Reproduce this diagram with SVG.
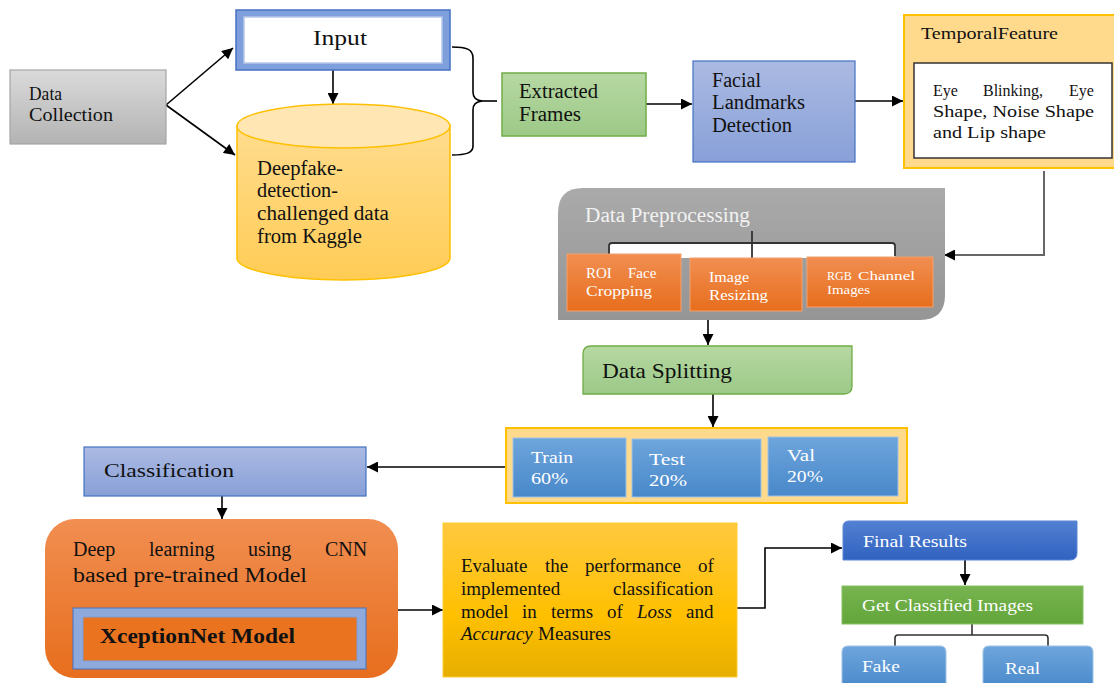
<svg xmlns="http://www.w3.org/2000/svg" width="1114" height="683" viewBox="0 0 1114 683" font-family="'Liberation Serif', 'DejaVu Serif', serif">
<defs>
<marker id="arr" viewBox="0 0 10 10" refX="10" refY="5" markerWidth="12" markerHeight="11" markerUnits="userSpaceOnUse" orient="auto"><path d="M0,0 L10,5 L0,10 z" fill="#000"/></marker>
<linearGradient id="gGray" x1="0" y1="0" x2="0" y2="1"><stop offset="0" stop-color="#DADADA"/><stop offset="1" stop-color="#B3B3B3"/></linearGradient>
<linearGradient id="gGray2" x1="0" y1="0" x2="0" y2="1"><stop offset="0" stop-color="#AAAAAA"/><stop offset="1" stop-color="#959595"/></linearGradient>
<linearGradient id="gGreen" x1="0" y1="0" x2="0" y2="1"><stop offset="0" stop-color="#B7D8A3"/><stop offset="1" stop-color="#9CC987"/></linearGradient>
<linearGradient id="gGreen2" x1="0" y1="0" x2="0" y2="1"><stop offset="0" stop-color="#78B450"/><stop offset="1" stop-color="#62A53A"/></linearGradient>
<linearGradient id="gLBlue" x1="0" y1="0" x2="0" y2="1"><stop offset="0" stop-color="#ABBAE2"/><stop offset="1" stop-color="#88A0D8"/></linearGradient>
<linearGradient id="gBlue" x1="0" y1="0" x2="0" y2="1"><stop offset="0" stop-color="#6EA5DC"/><stop offset="1" stop-color="#4888CA"/></linearGradient>
<linearGradient id="gDBlue" x1="0" y1="0" x2="0" y2="1"><stop offset="0" stop-color="#5280D2"/><stop offset="1" stop-color="#3062C0"/></linearGradient>
<linearGradient id="gOrange" x1="0" y1="0" x2="0" y2="1"><stop offset="0" stop-color="#F18E51"/><stop offset="1" stop-color="#E76E1D"/></linearGradient>
<linearGradient id="gYellow" x1="0" y1="0" x2="0" y2="1"><stop offset="0" stop-color="#FFC93F"/><stop offset="0.6" stop-color="#FFC000"/><stop offset="1" stop-color="#E6AE00"/></linearGradient>
<linearGradient id="gCyl" x1="0" y1="0" x2="0" y2="1"><stop offset="0" stop-color="#FFDC8E"/><stop offset="1" stop-color="#FFCC55"/></linearGradient>
<style>
text{font-family:'Liberation Serif','DejaVu Serif',serif;fill:#111;}
.w{fill:#fff;}
.con{fill:none;stroke:#000;stroke-width:1.6;}
.arr{marker-end:url(#arr);}
.blue{fill:url(#gBlue);stroke:#9DC3E6;stroke-width:1;}
.org{fill:url(#gOrange);stroke:#F4A26E;stroke-width:1;}
</style>
</defs>
<rect width="1114" height="683" fill="#fff"/>

<g id="connectors">
<path class="con arr" d="M166,105 L233,48"/>
<path class="con arr" d="M166,105 L235,155"/>
<path class="con arr" d="M333,70 L333,104"/>
<path class="con" d="M452,47 C466,47 473,49 473,58 L473,92 C473,98 476,100 482,101 C476,102 473,104 473,110 L473,146 C473,153 466,155 452,155"/>
<path class="con" d="M480,101 L497,101"/>
<path class="con arr" d="M646,104 L692,104"/>
<path class="con arr" d="M855,101 L903,101"/>
<path class="con arr" d="M1044,171 L1044,255 L944,255" style="stroke:#666;stroke-width:2"/>
<path class="con arr" d="M708,320 L708,345"/>
<path class="con arr" d="M713,394 L713,427"/>
<path class="con arr" d="M506,467 L367,467"/>
<path class="con arr" d="M222,496 L222,519"/>
<path class="con arr" d="M398,610 L443,610"/>
<path class="con arr" d="M737,608 L765,608 L765,548 L842,548"/>
<path class="con arr" d="M965,560 L965,585"/>
<path class="con" d="M972,624 L972,635 M895,646 L895,638 Q895,635 898,635 L1045,635 Q1048,635 1048,638 L1048,646" style="stroke:#333"/>
</g>

<g id="data-collection">
<rect x="10" y="70" width="156" height="74" fill="url(#gGray)" stroke="#A6A6A6" stroke-width="1.2"/>
<text x="29" y="100" font-size="18" textLength="33" lengthAdjust="spacingAndGlyphs">Data</text>
<text x="29" y="121" font-size="18" textLength="84" lengthAdjust="spacingAndGlyphs">Collection</text>
</g>

<g id="input">
<rect x="236" y="10" width="214" height="60" fill="#7F9FDC" stroke="#4472C4" stroke-width="1.5"/>
<rect x="244" y="17" width="198" height="46" fill="#fff" stroke="#B4C7E7" stroke-width="1.5"/>
<text x="313" y="45" font-size="21" textLength="54" lengthAdjust="spacingAndGlyphs">Input</text>
</g>

<g id="dataset">
<path d="M237,126 L237,258 A106.5,22 0 0 0 450,258 L450,126 Z" fill="url(#gCyl)" stroke="#FFC000" stroke-width="1.5"/>
<ellipse cx="343.5" cy="126" rx="106.5" ry="22" fill="#FFE6B3" stroke="#FFC000" stroke-width="1.5"/>
<text x="257" y="175" font-size="20" textLength="86" lengthAdjust="spacingAndGlyphs">Deepfake-</text>
<text x="257" y="197" font-size="20" textLength="81" lengthAdjust="spacingAndGlyphs">detection-</text>
<text x="257" y="220" font-size="20" textLength="132" lengthAdjust="spacingAndGlyphs">challenged  data</text>
<text x="257" y="243" font-size="20" textLength="105" lengthAdjust="spacingAndGlyphs">from Kaggle</text>
</g>

<g id="extracted-frames">
<rect x="502" y="73" width="144" height="63" fill="url(#gGreen)" stroke="#70AD47" stroke-width="1.5"/>
<text x="519" y="98" font-size="20" textLength="79" lengthAdjust="spacingAndGlyphs">Extracted</text>
<text x="519" y="121" font-size="20" textLength="62" lengthAdjust="spacingAndGlyphs">Frames</text>
</g>

<g id="facial-landmarks">
<rect x="693" y="61" width="162" height="101" fill="url(#gLBlue)" stroke="#4472C4" stroke-width="1.2"/>
<text x="712" y="87" font-size="20" textLength="49" lengthAdjust="spacingAndGlyphs">Facial</text>
<text x="712" y="109" font-size="20" textLength="93" lengthAdjust="spacingAndGlyphs">Landmarks</text>
<text x="712" y="132" font-size="20" textLength="80" lengthAdjust="spacingAndGlyphs">Detection</text>
</g>

<g id="temporal-feature">
<rect x="904" y="15" width="212" height="153" fill="#FFD98C" stroke="#FFC000" stroke-width="2"/>
<text x="921" y="39" font-size="16" textLength="137" lengthAdjust="spacingAndGlyphs">TemporalFeature</text>
<rect x="914" y="63" width="198" height="95" fill="#fff" stroke="#333" stroke-width="1.5"/>
<text x="933" y="96" font-size="16">Eye</text>
<text x="983" y="96" font-size="16">Blinking,</text>
<text x="1069" y="96" font-size="16">Eye</text>
<text x="933" y="117" font-size="16" textLength="161" lengthAdjust="spacingAndGlyphs">Shape, Noise Shape</text>
<text x="933" y="138" font-size="16" textLength="113" lengthAdjust="spacingAndGlyphs">and Lip shape</text>
</g>

<g id="data-preprocessing">
<path d="M558,320 L558,213 Q558,188 583,188 L945,188 L945,295 Q945,320 920,320 Z" fill="url(#gGray2)"/>
<text class="w" x="585" y="222" font-size="20" textLength="165" lengthAdjust="spacingAndGlyphs" style="fill:#F2F2F2">Data Preprocessing</text>
<rect x="610" y="244" width="285" height="14" fill="#fff"/>
<path class="con" d="M609,256 L609,246 Q609,243 612,243 L892,243 Q895,243 895,246 L895,256 M752,231 L752,258" style="stroke:#333;stroke-width:1.8"/>
</g>

<g id="roi-face-cropping">
<rect class="org" x="567" y="254" width="114" height="57"/>
<text class="w" x="586" y="278" font-size="15">ROI</text>
<text class="w" x="628" y="278" font-size="15">Face</text>
<text class="w" x="586" y="296" font-size="15" textLength="66" lengthAdjust="spacingAndGlyphs">Cropping</text>
</g>

<g id="image-resizing">
<rect class="org" x="690" y="258" width="112" height="53"/>
<text class="w" x="709" y="282" font-size="15" textLength="40" lengthAdjust="spacingAndGlyphs">Image</text>
<text class="w" x="709" y="300" font-size="15" textLength="59" lengthAdjust="spacingAndGlyphs">Resizing</text>
</g>

<g id="rgb-channel-images">
<rect class="org" x="807" y="257" width="126" height="50"/>
<text class="w" x="827" y="280" font-size="12">RGB</text>
<text class="w" x="858" y="280" font-size="12" textLength="57" lengthAdjust="spacingAndGlyphs">Channel</text>
<text class="w" x="827" y="294" font-size="12" textLength="43" lengthAdjust="spacingAndGlyphs">Images</text>
</g>

<g id="data-splitting">
<path d="M591,346 L852,346 L852,386 Q852,394 844,394 L583,394 L583,354 Q583,346 591,346 Z" fill="url(#gGreen)" stroke="#70AD47" stroke-width="1.3"/>
<text x="602" y="378" font-size="21" textLength="130" lengthAdjust="spacingAndGlyphs">Data Splitting</text>
</g>

<g id="split-sets">
<rect x="506" y="428" width="401" height="75" fill="#FFD98C" stroke="#FFC000" stroke-width="2"/>
</g>
<g id="train">
<rect class="blue" x="513" y="438" width="113" height="59"/>
<text class="w" x="531" y="463" font-size="16" textLength="42" lengthAdjust="spacingAndGlyphs">Train</text>
<text class="w" x="531" y="484" font-size="16" textLength="37" lengthAdjust="spacingAndGlyphs">60%</text>
</g>
<g id="test">
<rect class="blue" x="632" y="439" width="129" height="58"/>
<text class="w" x="649" y="465" font-size="16" textLength="36" lengthAdjust="spacingAndGlyphs">Test</text>
<text class="w" x="649" y="486" font-size="16" textLength="38" lengthAdjust="spacingAndGlyphs">20%</text>
</g>
<g id="val">
<rect class="blue" x="768" y="437" width="130" height="59"/>
<text class="w" x="787" y="461" font-size="16" textLength="28" lengthAdjust="spacingAndGlyphs">Val</text>
<text class="w" x="787" y="482" font-size="16" textLength="36" lengthAdjust="spacingAndGlyphs">20%</text>
</g>

<g id="classification">
<rect x="84" y="447" width="282" height="49" fill="url(#gLBlue)" stroke="#4472C4" stroke-width="1.2"/>
<text x="104" y="477" font-size="19" textLength="130" lengthAdjust="spacingAndGlyphs">Classification</text>
</g>

<g id="deep-learning">
<rect x="45" y="519" width="353" height="159" rx="30" fill="url(#gOrange)"/>
<text x="73" y="556" font-size="20">Deep</text>
<text x="149" y="556" font-size="20">learning</text>
<text x="248" y="556" font-size="20">using</text>
<text x="325" y="556" font-size="20">CNN</text>
<text x="73" y="582" font-size="20" textLength="234" lengthAdjust="spacingAndGlyphs">based pre-trained Model</text>
</g>

<g id="xceptionnet">
<rect x="73" y="608" width="293" height="61" fill="#8EA9DB" stroke="#4472C4" stroke-width="1"/>
<rect x="83" y="617" width="274" height="44" fill="#E9731F" stroke="#7F9FD8" stroke-width="1"/>
<text x="100" y="643" font-size="20" font-weight="bold" textLength="195" lengthAdjust="spacingAndGlyphs">XceptionNet Model</text>
</g>

<g id="evaluate">
<rect x="443" y="523" width="294" height="154" fill="url(#gYellow)" stroke="#FFCC33" stroke-width="1"/>
<text x="461" y="572" font-size="19">Evaluate</text>
<text x="545" y="572" font-size="19">the</text>
<text x="585" y="572" font-size="19">performance</text>
<text x="698" y="572" font-size="19">of</text>
<text x="461" y="595" font-size="19">implemented</text>
<text x="613" y="595" font-size="19">classification</text>
<text x="461" y="618" font-size="19">model</text>
<text x="522" y="618" font-size="19">in</text>
<text x="551" y="618" font-size="19">terms</text>
<text x="607" y="618" font-size="19">of</text>
<text x="637" y="618" font-size="19" font-style="italic">Loss</text>
<text x="686" y="618" font-size="19">and</text>
<text x="461" y="640" font-size="19" font-style="italic">Accuracy</text>
<text x="538" y="640" font-size="19">Measures</text>
</g>

<g id="final-results">
<path d="M849,521 L1077,521 L1077,553 Q1077,560 1070,560 L843,560 L843,527 Q843,521 849,521 Z" fill="url(#gDBlue)" stroke="#5B85D6" stroke-width="1"/>
<text class="w" x="863" y="547" font-size="16" textLength="104" lengthAdjust="spacingAndGlyphs">Final Results</text>
</g>

<g id="get-classified-images">
<rect x="842" y="586" width="241" height="38" fill="url(#gGreen2)" stroke="#86C060" stroke-width="1"/>
<text class="w" x="862" y="611" font-size="16" textLength="171" lengthAdjust="spacingAndGlyphs">Get Classified Images</text>
</g>

<g id="fake">
<path d="M842,690 L842,652 Q842,646 848,646 L940,646 Q946,646 946,652 L946,690 Z" class="blue"/>
<text class="w" x="862" y="672" font-size="16" textLength="38" lengthAdjust="spacingAndGlyphs">Fake</text>
</g>

<g id="real">
<path d="M983,690 L983,652 Q983,646 989,646 L1087,646 Q1093,646 1093,652 L1093,690 Z" class="blue"/>
<text class="w" x="1005" y="674" font-size="16" textLength="35" lengthAdjust="spacingAndGlyphs">Real</text>
</g>
</svg>
